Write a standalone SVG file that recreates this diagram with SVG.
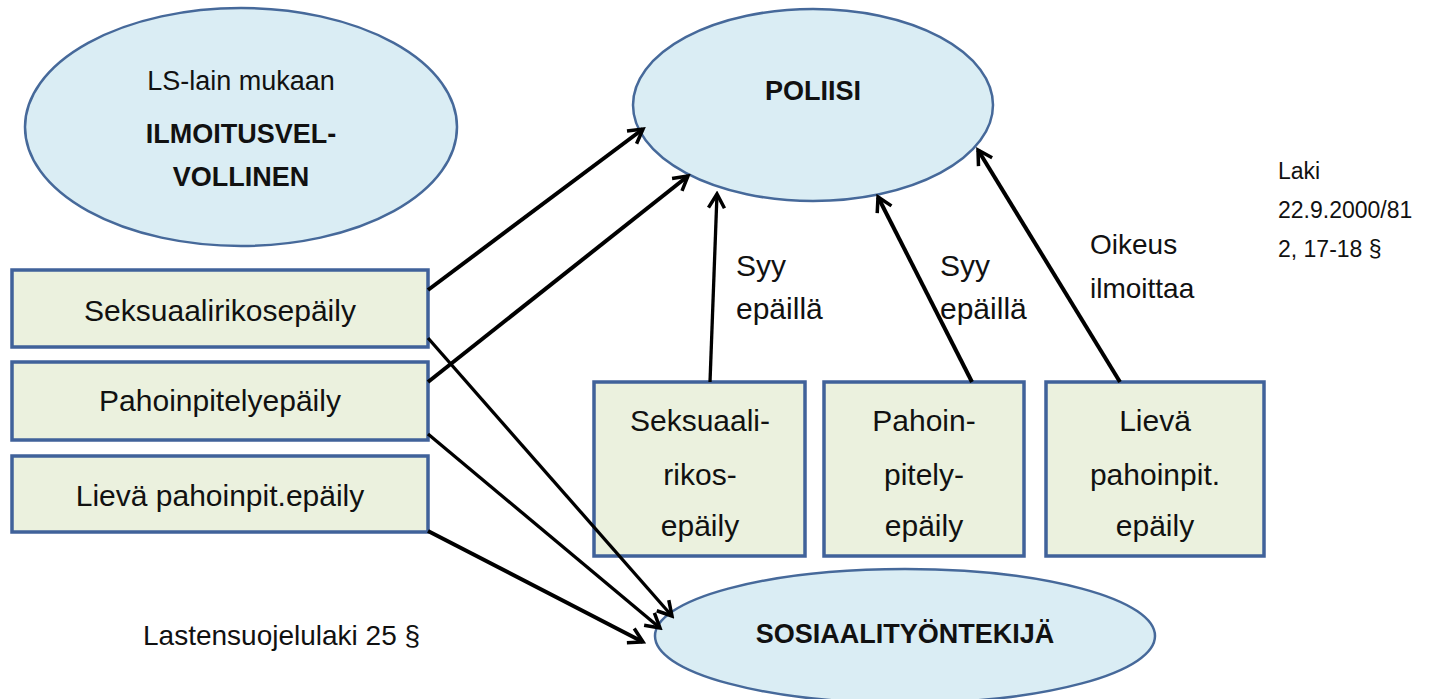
<svg xmlns="http://www.w3.org/2000/svg" width="1449" height="699" viewBox="0 0 1449 699">
<defs>
<style>
.ell{fill:#daedf4;stroke:#46699a;stroke-width:2.5}
.box{fill:#ebf1de;stroke:#40629a;stroke-width:3.5}
text{font-family:"Liberation Sans",Arial,sans-serif;fill:#111;text-anchor:middle}
.t{font-size:30px}
.b{font-size:27px;font-weight:bold}
.s{font-size:23px;text-anchor:start}
.l{font-size:30px;text-anchor:start}
.c{stroke:#000;stroke-width:4;fill:none}
.thin{stroke-width:3.3}
</style>
<marker id="ah" viewBox="0 0 20 20" refX="17" refY="10" markerWidth="20" markerHeight="20" markerUnits="userSpaceOnUse" orient="auto">
<polyline points="3,2 17,10 3,18" fill="none" stroke="#000" stroke-width="3.5"/>
</marker>
</defs>
<rect width="1449" height="699" fill="#fff"/>
<g id="ilmoitusvelvollinen">
<ellipse class="ell" cx="241" cy="127" rx="216" ry="119"/>
<text x="241" y="90" style="font-size:27px">LS-lain mukaan</text>
<text class="b" x="241" y="143">ILMOITUSVEL-</text>
<text class="b" x="241" y="186">VOLLINEN</text>
</g>
<g id="poliisi">
<ellipse class="ell" cx="813" cy="105" rx="180" ry="96"/>
<text class="b" x="813" y="100">POLIISI</text>
</g>
<g id="sosiaalityontekija">
<ellipse class="ell" cx="905" cy="636" rx="250" ry="67"/>
<text class="b" x="905" y="643">SOSIAALITYÖNTEKIJÄ</text>
</g>
<g id="seksuaalirikosepaily">
<rect class="box" x="12" y="270" width="416" height="77"/>
<text class="t" x="220" y="321">Seksuaalirikosepäily</text>
</g>
<g id="pahoinpitelyepaily">
<rect class="box" x="12" y="362" width="416" height="78"/>
<text class="t" x="220" y="411">Pahoinpitelyepäily</text>
</g>
<g id="lieva-pahoinpit-epaily">
<rect class="box" x="12" y="456" width="416" height="76"/>
<text class="t" x="220" y="506">Lievä pahoinpit.epäily</text>
</g>
<g id="seksuaali-rikos-epaily">
<rect class="box" x="594" y="382" width="211" height="174"/>
<text class="t" x="700" y="431">Seksuaali-</text>
<text class="t" x="700" y="485">rikos-</text>
<text class="t" x="700" y="536">epäily</text>
</g>
<g id="pahoin-pitely-epaily">
<rect class="box" x="824" y="382" width="200" height="174"/>
<text class="t" x="924" y="431">Pahoin-</text>
<text class="t" x="924" y="485">pitely-</text>
<text class="t" x="924" y="536">epäily</text>
</g>
<g id="lieva-pahoinpit-epaily-2">
<rect class="box" x="1046" y="382" width="218" height="174"/>
<text class="t" x="1155" y="431">Lievä</text>
<text class="t" x="1155" y="485">pahoinpit.</text>
<text class="t" x="1155" y="536">epäily</text>
</g>
<g id="connectors">
<line class="c" x1="428" y1="290" x2="643" y2="129" marker-end="url(#ah)"/>
<line class="c" x1="428" y1="382" x2="688" y2="176" marker-end="url(#ah)"/>
<line class="c thin" x1="710" y1="382" x2="717" y2="194" marker-end="url(#ah)"/>
<line class="c" x1="972" y1="382" x2="878" y2="197" marker-end="url(#ah)"/>
<line class="c" x1="1120" y1="382" x2="978" y2="150" marker-end="url(#ah)"/>
<line class="c thin" x1="428" y1="338" x2="672" y2="616" marker-end="url(#ah)"/>
<line class="c thin" x1="428" y1="434" x2="660" y2="628" marker-end="url(#ah)"/>
<line class="c" x1="428" y1="531" x2="643" y2="642" marker-end="url(#ah)"/>
</g>
<g id="labels">
<text class="l" x="736" y="276">Syy</text>
<text class="l" x="736" y="319">epäillä</text>
<text class="l" x="940" y="276">Syy</text>
<text class="l" x="940" y="319">epäillä</text>
<text class="l" x="1090" y="254" style="font-size:28px">Oikeus</text>
<text class="l" x="1090" y="298" style="font-size:28px">ilmoittaa</text>
<text class="s" x="1278" y="179">Laki</text>
<text class="s" x="1278" y="218">22.9.2000/81</text>
<text class="s" x="1278" y="257">2, 17-18 §</text>
<text class="s" x="143" y="645" style="font-size:28px">Lastensuojelulaki 25 §</text>
</g>
</svg>
